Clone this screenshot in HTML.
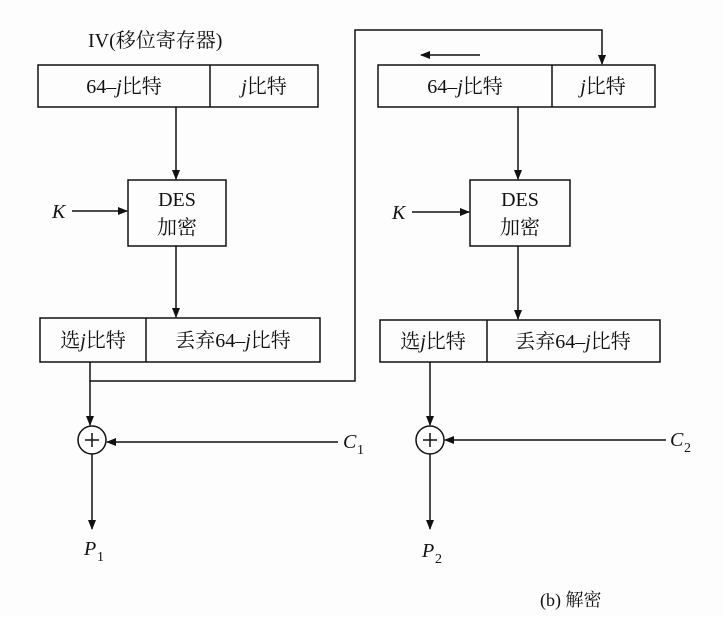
<!DOCTYPE html>
<html><head><meta charset="utf-8"><style>
html,body{margin:0;padding:0;background:#fff;}
svg text{font-family:"Liberation Serif","Noto Serif CJK SC",serif;fill:#111;}
</style></head><body>
<svg width="723" height="617" viewBox="0 0 723 617" xmlns="http://www.w3.org/2000/svg">
<defs><marker id="a" markerWidth="10" markerHeight="10" refX="9" refY="4" orient="auto" markerUnits="userSpaceOnUse"><path d="M0,0 L10,4 L0,8 z" fill="#111"/></marker></defs>
<rect width="723" height="617" fill="#fdfdfd"/>
<g stroke="#111" stroke-width="1.5" fill="none">
<!-- left -->
<rect x="38" y="65" width="280" height="42"/><line x1="210" y1="65" x2="210" y2="107"/>
<line x1="176" y1="107" x2="176" y2="179" marker-end="url(#a)"/>
<rect x="128" y="180" width="98" height="66"/>
<line x1="72" y1="211" x2="127" y2="211" marker-end="url(#a)"/>
<line x1="176" y1="246" x2="176" y2="317" marker-end="url(#a)"/>
<rect x="40" y="318" width="280" height="44"/><line x1="146" y1="318" x2="146" y2="362"/>
<polyline points="90,362 90,381 355,381 355,30 602,30 602,64" marker-end="url(#a)"/>
<line x1="90" y1="381" x2="90" y2="425" marker-end="url(#a)"/>
<circle cx="92" cy="440" r="14"/>
<line x1="85" y1="440" x2="99" y2="440"/><line x1="92" y1="433" x2="92" y2="447"/>
<line x1="338" y1="442" x2="107" y2="442" marker-end="url(#a)"/>
<line x1="92" y1="454" x2="92" y2="529" marker-end="url(#a)"/>
<!-- right -->
<line x1="480" y1="55" x2="421" y2="55" marker-end="url(#a)"/>
<rect x="378" y="65" width="277" height="42"/><line x1="552" y1="65" x2="552" y2="107"/>
<line x1="518" y1="107" x2="518" y2="179" marker-end="url(#a)"/>
<rect x="470" y="180" width="100" height="66"/>
<line x1="412" y1="212" x2="469" y2="212" marker-end="url(#a)"/>
<line x1="518" y1="246" x2="518" y2="319" marker-end="url(#a)"/>
<rect x="380" y="320" width="280" height="42"/><line x1="487" y1="320" x2="487" y2="362"/>
<line x1="430" y1="362" x2="430" y2="425" marker-end="url(#a)"/>
<circle cx="430" cy="440" r="14"/>
<line x1="423" y1="440" x2="437" y2="440"/><line x1="430" y1="433" x2="430" y2="447"/>
<line x1="666" y1="440" x2="445" y2="440" marker-end="url(#a)"/>
<line x1="430" y1="454" x2="430" y2="529" marker-end="url(#a)"/>
</g>
<g font-size="20">
<text x="88" y="47">IV(移位寄存器)</text>
<text x="124" y="93" text-anchor="middle">64–<tspan font-style="italic">j</tspan>比特</text>
<text x="264" y="93" text-anchor="middle"><tspan font-style="italic">j</tspan>比特</text>
<text x="177" y="206" text-anchor="middle">DES</text>
<text x="177" y="234" text-anchor="middle">加密</text>
<text x="52" y="218" font-style="italic">K</text>
<text x="93" y="347" text-anchor="middle">选<tspan font-style="italic">j</tspan>比特</text>
<text x="233" y="347" text-anchor="middle">丢弃64–<tspan font-style="italic">j</tspan>比特</text>
<text x="343" y="448" font-style="italic">C</text><text x="357" y="454" font-size="14">1</text>
<text x="84" y="555" font-style="italic">P</text><text x="97" y="561" font-size="14">1</text>
<text x="465" y="93" text-anchor="middle">64–<tspan font-style="italic">j</tspan>比特</text>
<text x="603" y="93" text-anchor="middle"><tspan font-style="italic">j</tspan>比特</text>
<text x="520" y="206" text-anchor="middle">DES</text>
<text x="520" y="234" text-anchor="middle">加密</text>
<text x="392" y="219" font-style="italic">K</text>
<text x="433" y="348" text-anchor="middle">选<tspan font-style="italic">j</tspan>比特</text>
<text x="573" y="348" text-anchor="middle">丢弃64–<tspan font-style="italic">j</tspan>比特</text>
<text x="670" y="446" font-style="italic">C</text><text x="684" y="452" font-size="14">2</text>
<text x="422" y="557" font-style="italic">P</text><text x="435" y="563" font-size="14">2</text>
<text x="540" y="606" font-size="18">(b) 解密</text>
</g>
</svg>
</body></html>
